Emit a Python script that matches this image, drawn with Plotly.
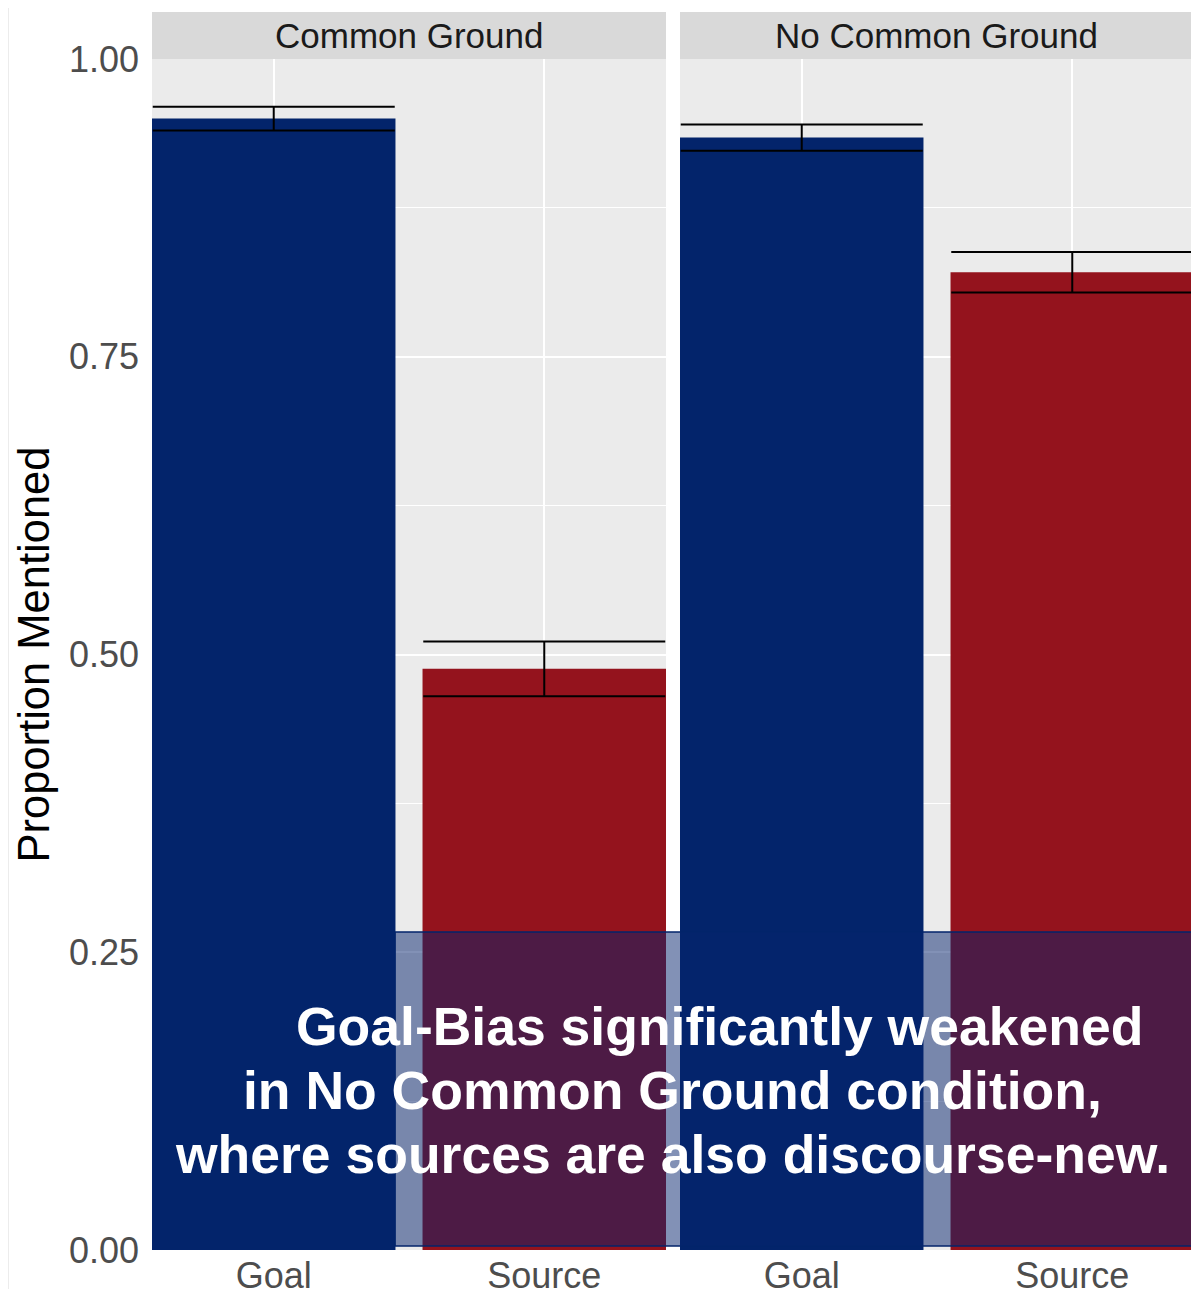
import plotly.graph_objects as go

# ---- data ----
conditions = ["Common Ground", "No Common Ground"]
categories = ["Goal", "Source"]
cg_values = [0.950, 0.488]
cg_err = [0.010, 0.023]
ncg_values = [0.934, 0.821]
ncg_err = [0.011, 0.017]
bar_colors = ["#03246B", "#94131D"]
y_tick_vals = [0.0, 0.25, 0.5, 0.75, 1.0]
y_tick_text = ["0.00", "0.25", "0.50", "0.75", "1.00"]
y_minor_vals = [0.125, 0.375, 0.625, 0.875]
note_lines = [
    "Goal-Bias significantly weakened",
    "in No Common Ground condition,",
    "where sources are also discourse-new.",
]

# ---- geometry (pixels, reference coordinates; page body adds an 8px offset) ----
OFF = 8
W, H = 1199 - OFF, 1289 - OFF
ML, MR, MT, MB = 152 - OFF, 5, 12 - OFF, 39
PW = W - ML - MR
PH = H - MT - MB
panel_w = 514
gap = 14
strip_h = 47
ydom_top = (PH - strip_h) / PH

def px_x(p):
    return (p - OFF - ML) / PW

def px_y(p):
    return (H - MB - (p - OFF)) / PH

fig = go.Figure()
for i, (vals, errs) in enumerate([(cg_values, cg_err), (ncg_values, ncg_err)]):
    fig.add_trace(go.Bar(
        x=categories, y=vals, width=0.9,
        marker=dict(color=bar_colors, line=dict(width=0)),
        error_y=dict(type="data", array=errs, color="black", thickness=2, width=121),
        xaxis="x" if i == 0 else "x2", yaxis="y", showlegend=False,
    ))

xcommon = dict(type="category", range=[-0.45, 1.45], showgrid=True, gridcolor="white",
               gridwidth=2, ticks="", zeroline=False, showline=False, automargin=False,
               tickfont=dict(family="Liberation Sans, Arial", size=36, color="#4d4d4d"),
               ticklabelstandoff=1, anchor="y")

fig.update_layout(
    width=W, height=H,
    margin=dict(l=ML, r=MR, t=MT, b=MB, pad=0),
    paper_bgcolor="white", plot_bgcolor="#ebebeb",
    bargap=0.1,
    xaxis=dict(domain=[0, panel_w / PW], **xcommon),
    xaxis2=dict(domain=[(panel_w + gap) / PW, 1], **xcommon),
    yaxis=dict(domain=[0, ydom_top], range=[0, 1], tickvals=y_tick_vals, ticktext=y_tick_text,
               showgrid=True, gridcolor="white", gridwidth=2, zeroline=False, ticks="",
               automargin=False, ticklabelstandoff=12,
               minor=dict(tickvals=y_minor_vals, showgrid=True, gridcolor="white", gridwidth=1),
               tickfont=dict(family="Liberation Sans, Arial", size=36, color="#4d4d4d"),
               title=dict(text="Proportion Mentioned", standoff=5,
                          font=dict(family="Liberation Sans, Arial", size=43.5, color="black"))),
    font=dict(family="Liberation Sans, Arial"),
)

shapes = []
annotations = []
# faint frame line at the far left of the reference image
shapes.append(dict(type="line", xref="paper", yref="paper", x0=px_x(8.5), x1=px_x(8.5),
                   y0=px_y(1289), y1=px_y(0), line=dict(color="#ececec", width=1)))
for i, cond in enumerate(conditions):
    x0 = i * (panel_w + gap) / PW
    x1 = (i * (panel_w + gap) + panel_w) / PW
    shapes.append(dict(type="rect", xref="paper", yref="paper", x0=x0, x1=x1,
                       y0=ydom_top, y1=1, fillcolor="#d9d9d9", line=dict(width=0), layer="below"))
    annotations.append(dict(text=cond, xref="paper", yref="paper", x=(x0 + x1) / 2,
                            y=(ydom_top + 1) / 2, showarrow=False, xanchor="center", yanchor="middle",
                            font=dict(size=35, color="#1a1a1a", family="Liberation Sans, Arial")))

shapes.append(dict(type="rect", xref="paper", yref="paper",
                   x0=px_x(395), x1=px_x(1192), y0=px_y(1246), y1=px_y(932),
                   fillcolor="rgba(5,36,110,0.5)", line=dict(color="#03246B", width=1.5),
                   layer="above"))

line_pos = [(719, 1026), (672, 1090), (672, 1154)]
for txt, (lx, ly) in zip(note_lines, line_pos):
    annotations.append(dict(text="<b>" + txt + "</b>", xref="paper", yref="paper",
                            x=px_x(lx), y=px_y(ly), showarrow=False, xanchor="center",
                            yanchor="middle",
                            font=dict(size=53.5, color="white", family="Liberation Sans, Arial")))

fig.update_layout(shapes=shapes, annotations=annotations)
fig.write_html("out.html")
